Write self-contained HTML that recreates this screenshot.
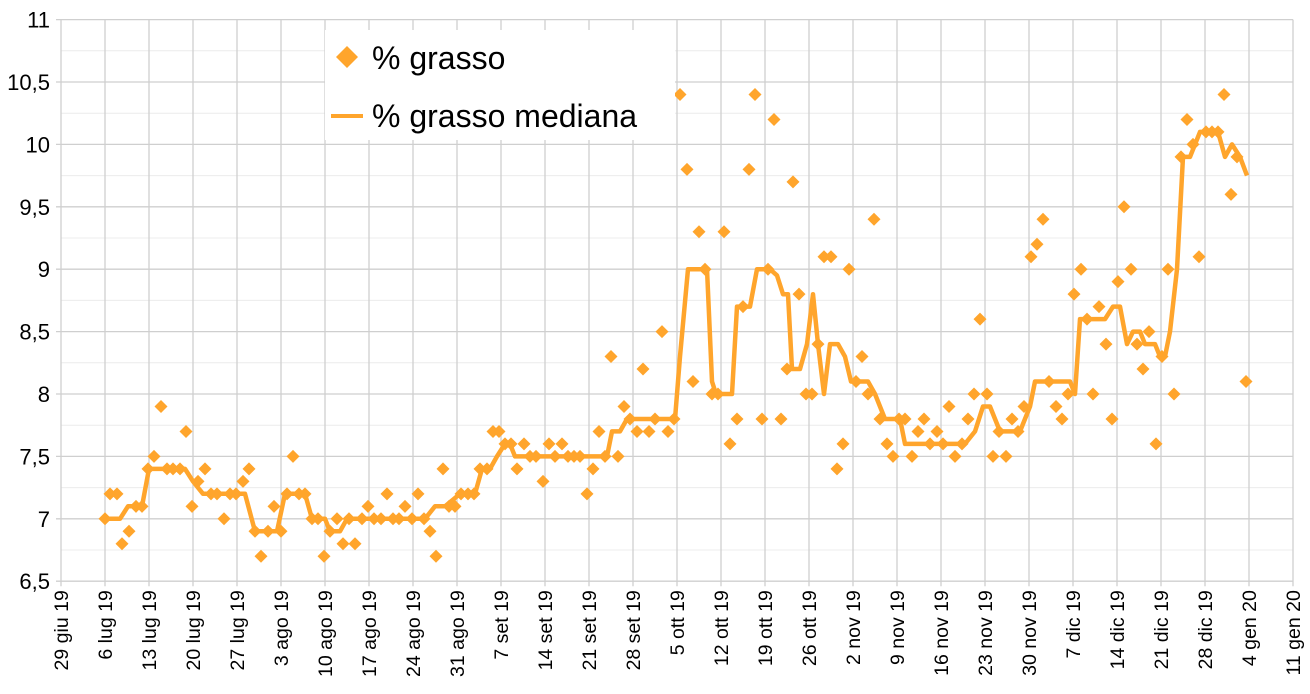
<!DOCTYPE html>
<html><head><meta charset="utf-8"><style>
body{margin:0;background:#fff;}
svg text{font-family:"Liberation Sans",Arial,sans-serif;fill:#000;}
</style></head><body>
<svg id="s" width="1310" height="689" xmlns="http://www.w3.org/2000/svg"></svg>
<script>
const s=document.getElementById('s');
const X0=61,W=44,Y=v=>19.6+(11-v)*124.8;
let h='';
for(let v=6.75;v<11;v+=0.5)h+=`<line x1="${X0}" x2="1293" y1="${Y(v)}" y2="${Y(v)}" stroke="#ececec" stroke-width="1"/>`;
for(let v=6.5;v<=11.001;v+=0.5){h+=`<line x1="${X0-5}" x2="1293" y1="${Y(v)}" y2="${Y(v)}" stroke="#cfcfcf" stroke-width="1.3"/>`;
h+=`<text x="50" y="${Y(v)+8}" font-size="22" text-anchor="end">${(v%1?v.toFixed(1):v.toFixed(0)).replace('.',',')}</text>`;}
const labs=["29 giu 19","6 lug 19","13 lug 19","20 lug 19","27 lug 19","3 ago 19","10 ago 19","17 ago 19","24 ago 19","31 ago 19","7 set 19","14 set 19","21 set 19","28 set 19","5 ott 19","12 ott 19","19 ott 19","26 ott 19","2 nov 19","9 nov 19","16 nov 19","23 nov 19","30 nov 19","7 dic 19","14 dic 19","21 dic 19","28 dic 19","4 gen 20","11 gen 20"];
labs.forEach((l,i)=>{const x=X0+i*W;h+=`<line x1="${x}" x2="${x}" y1="${Y(11)}" y2="${Y(6.5)+5}" stroke="#cfcfcf" stroke-width="1.3"/>`;
h+=`<text transform="translate(${x+7},${Y(6.5)+9}) rotate(-90)" font-size="19.5" text-anchor="end">${l}</text>`;});
const med=[[105,7.0],[120,7.0],[128,7.1],[142,7.1],[149,7.4],[185,7.4],[193,7.3],[203,7.2],[245,7.2],[255,6.9],[277,6.9],[285,7.2],[305,7.2],[312,7.0],[325,7.0],[330,6.9],[340,6.9],[347,7.0],[425,7.0],[435,7.1],[445,7.1],[460,7.2],[475,7.2],[482,7.4],[490,7.4],[497,7.5],[505,7.6],[510,7.6],[515,7.5],[607,7.5],[612,7.7],[620,7.7],[627,7.8],[675,7.8],[680,8.3],[688,9.0],[707,9.0],[712,8.1],[716,8.0],[732,8.0],[737,8.7],[750,8.7],[757,9.0],[770,9.0],[777,8.95],[783,8.8],[788,8.8],[792,8.2],[800,8.2],[807,8.4],[813,8.8],[818,8.4],[824,8.0],[830,8.4],[838,8.4],[845,8.3],[851,8.1],[868,8.1],[875,8.0],[885,7.8],[900,7.8],[905,7.6],[965,7.6],[975,7.7],[983,7.9],[990,7.9],[1000,7.7],[1020,7.7],[1030,7.9],[1035,8.1],[1070,8.1],[1075,8.0],[1080,8.6],[1105,8.6],[1113,8.7],[1120,8.7],[1127,8.4],[1133,8.5],[1140,8.5],[1145,8.4],[1155,8.4],[1160,8.3],[1165,8.3],[1170,8.5],[1177,9.0],[1183,9.9],[1190,9.9],[1200,10.1],[1218,10.1],[1225,9.9],[1232,10.0],[1240,9.9],[1247,9.75]];
h+=`<polyline fill="none" stroke="#ffa52c" stroke-width="4.5" stroke-linejoin="round" points="${med.map(p=>p[0]+','+Y(p[1]).toFixed(1)).join(' ')}"/>`;
const pts=[[105,7.0],[110,7.2],[117,7.2],[122,6.8],[129,6.9],[136,7.1],[142,7.1],[148,7.4],[154,7.5],[161,7.9],[167,7.4],[173,7.4],[180,7.4],[186,7.7],[192,7.1],[198,7.3],[205,7.4],[211,7.2],[217,7.2],[224,7.0],[230,7.2],[236,7.2],[243,7.3],[249,7.4],[255,6.9],[261,6.7],[268,6.9],[274,7.1],[281,6.9],[287,7.2],[293,7.5],[299,7.2],[305,7.2],[312,7.0],[318,7.0],[324,6.7],[330,6.9],[337,7.0],[343,6.8],[349,7.0],[355,6.8],[362,7.0],[368,7.1],[374,7.0],[381,7.0],[387,7.2],[393,7.0],[399,7.0],[405,7.1],[412,7.0],[418,7.2],[424,7.0],[430,6.9],[436,6.7],[443,7.4],[449,7.1],[455,7.1],[461,7.2],[468,7.2],[474,7.2],[480,7.4],[487,7.4],[493,7.7],[499,7.7],[505,7.6],[511,7.6],[517,7.4],[524,7.6],[530,7.5],[536,7.5],[543,7.3],[549,7.6],[555,7.5],[562,7.6],[568,7.5],[574,7.5],[580,7.5],[587,7.2],[593,7.4],[599,7.7],[605,7.5],[611,8.3],[618,7.5],[624,7.9],[630,7.8],[637,7.7],[643,8.2],[649,7.7],[655,7.8],[662,8.5],[668,7.7],[674,7.8],[680,10.4],[687,9.8],[693,8.1],[699,9.3],[705,9.0],[712,8.0],[718,8.0],[724,9.3],[730,7.6],[737,7.8],[743,8.7],[749,9.8],[755,10.4],[762,7.8],[768,9.0],[774,10.2],[781,7.8],[787,8.2],[793,9.7],[799,8.8],[806,8.0],[812,8.0],[818,8.4],[824,9.1],[831,9.1],[837,7.4],[843,7.6],[849,9.0],[856,8.1],[862,8.3],[868,8.0],[874,9.4],[880,7.8],[887,7.6],[893,7.5],[899,7.8],[905,7.8],[912,7.5],[918,7.7],[924,7.8],[930,7.6],[937,7.7],[943,7.6],[949,7.9],[955,7.5],[962,7.6],[968,7.8],[974,8.0],[980,8.6],[987,8.0],[993,7.5],[999,7.7],[1006,7.5],[1012,7.8],[1018,7.7],[1024,7.9],[1031,9.1],[1037,9.2],[1043,9.4],[1049,8.1],[1056,7.9],[1062,7.8],[1068,8.0],[1074,8.8],[1081,9.0],[1087,8.6],[1093,8.0],[1099,8.7],[1106,8.4],[1112,7.8],[1118,8.9],[1124,9.5],[1131,9.0],[1137,8.4],[1143,8.2],[1149,8.5],[1156,7.6],[1162,8.3],[1168,9.0],[1174,8.0],[1181,9.9],[1187,10.2],[1193,10.0],[1199,9.1],[1206,10.1],[1212,10.1],[1218,10.1],[1224,10.4],[1231,9.6],[1237,9.9],[1246,8.1]];
const d=(x,y,r)=>`<polygon fill="#ffa52c" points="${x},${y-r} ${x+r},${y} ${x},${y+r} ${x-r},${y}"/>`;
pts.forEach(p=>h+=d(p[0],Y(p[1]),6.5));
h+=`<rect x="325" y="30" width="350" height="110" fill="#fff"/>`;
h+=d(347,57,11)+`<text x="372" y="69" font-size="32">% grasso</text>`;
h+=`<line x1="331" x2="363" y1="116" y2="116" stroke="#ffa52c" stroke-width="4"/><text x="372" y="127" font-size="32">% grasso mediana</text>`;
s.innerHTML=h;
</script>
</body></html>
